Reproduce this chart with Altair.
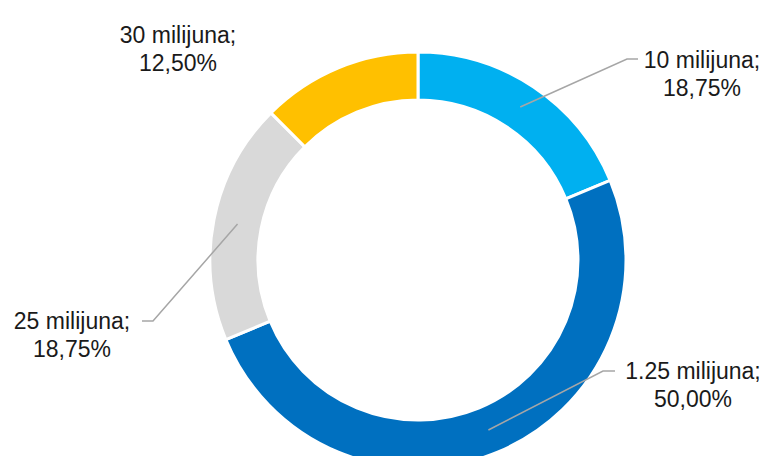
import math
import altair as alt
import pandas as pd

# ---- data ----
categories = ["10 milijuna", "1.25 milijuna", "25 milijuna", "30 milijuna"]
shares = [18.75, 50.00, 18.75, 12.50]
colors = ["#00B0F0", "#0070C0", "#D9D9D9", "#FFC000"]

# ---- layout (screen pixels, page margin subtracted below) ----
M = 8
CX, CY = 418, 260
R_OUT, R_IN = 208, 160
R_MID = (R_OUT + R_IN) / 2
label_pos = [(702, 61), (693, 372), (72, 322), (178, 36)]
leader_elbow = [(627, 59), (603, 371), (153, 321), None]
leader_end = [(638, 59), (615, 371), (142, 321), None]
FONT = "Liberation Sans"
FSIZE = 23

def fmt_pct(v):
    return f"{v:.2f}".replace(".", ",") + "%"

arc_df = pd.DataFrame({"cat": categories, "share": shares, "idx": range(len(categories))})

lab_df = pd.DataFrame({
    "text": [f"{c};\n{fmt_pct(s)}" for c, s in zip(categories, shares)],
    "x": [p[0] - M for p in label_pos],
    "y": [p[1] - M for p in label_pos],
})

rows = []
cum = 0.0
total = sum(shares)
for i, s in enumerate(shares):
    mid = (cum + s / 2) / total * 2 * math.pi
    cum += s
    if leader_elbow[i] is None:
        continue
    sx = CX + R_MID * math.sin(mid)
    sy = CY - R_MID * math.cos(mid)
    pts = [(sx, sy), leader_elbow[i], leader_end[i]]
    for k, (px, py) in enumerate(pts):
        rows.append({"g": categories[i], "k": k, "x": px - M, "y": py - M})
line_df = pd.DataFrame(rows)

arcs = alt.Chart(arc_df).mark_arc(
    outerRadius=R_OUT, innerRadius=R_IN, stroke="white", strokeWidth=3
).encode(
    theta=alt.Theta("share:Q", stack=True),
    order=alt.Order("idx:Q"),
    color=alt.Color("cat:N", scale=alt.Scale(domain=categories, range=colors), legend=None),
    x=alt.value(CX - M),
    y=alt.value(CY - M),
)

lines = alt.Chart(line_df).mark_line(color="#A6A6A6", strokeWidth=1.5).encode(
    x=alt.X("x:Q", scale=None, axis=None),
    y=alt.Y("y:Q", scale=None, axis=None),
    detail="g:N",
    order="k:Q",
)

labels = alt.Chart(lab_df).mark_text(
    font=FONT, fontSize=FSIZE, color="#1a1a1a", align="center", baseline="middle",
    lineBreak="\n", lineHeight=28,
).encode(
    x=alt.X("x:Q", scale=None, axis=None),
    y=alt.Y("y:Q", scale=None, axis=None),
    text="text:N",
)

chart = alt.layer(arcs, lines, labels).properties(
    width=753, height=448, padding=0, autosize=alt.AutoSizeParams(type="none")
).configure_view(stroke=None)

chart.save("out.html", embed_options={"renderer": "svg", "actions": False})
